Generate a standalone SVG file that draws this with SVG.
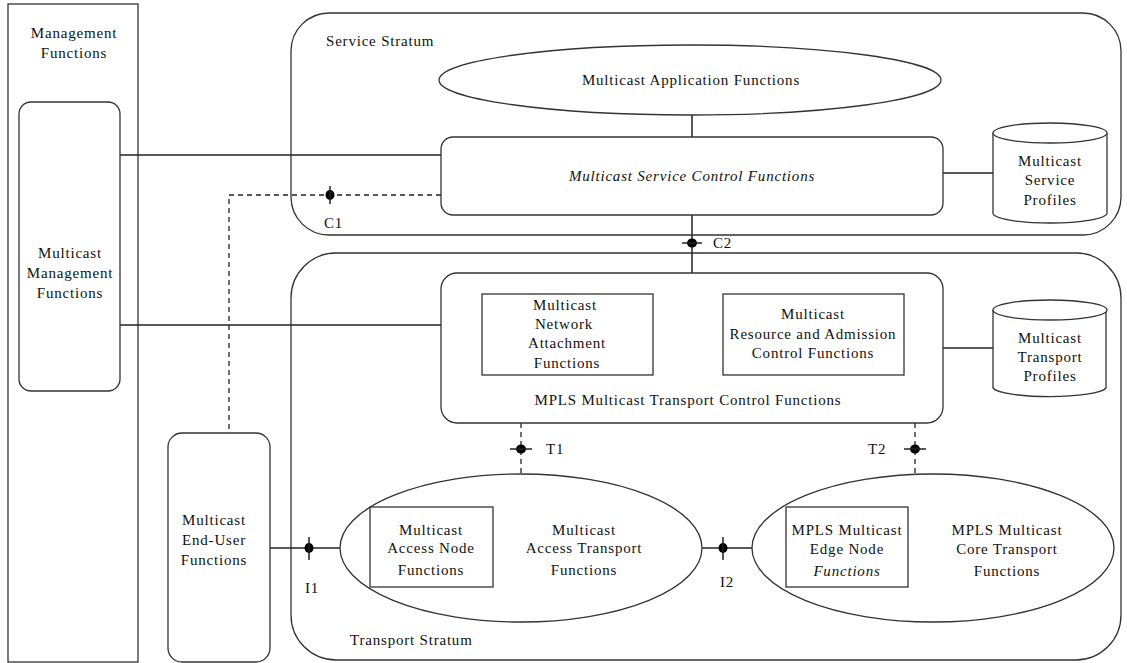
<svg xmlns="http://www.w3.org/2000/svg" width="1127" height="663" viewBox="0 0 1127 663">
<style>
.s{fill:none;stroke:#333;stroke-width:1.3}
.w{fill:#fff;stroke:#333;stroke-width:1.3}
.c{fill:none;stroke:#222;stroke-width:1.5}
.d{fill:none;stroke:#222;stroke-width:1.3;stroke-dasharray:5,4}
.t{font-family:"Liberation Serif","Times New Roman",serif;font-size:15px;letter-spacing:0.8px;fill:#111;text-anchor:middle}
.l{font-family:"Liberation Serif","Times New Roman",serif;font-size:15px;letter-spacing:0.8px;fill:#111}
.i{font-style:italic}
.k{fill:#000}
</style>
<rect width="1127" height="663" fill="#fff"/>
<g id="management-functions">
<rect x="8" y="4" width="130" height="658" class="s"/>
<text class="t" x="74" y="38">Management</text>
<text class="t" x="74" y="58">Functions</text>
</g>
<g id="service-stratum">
<rect x="291" y="13" width="830" height="222" rx="38" class="s"/>
<text class="l" x="326" y="46">Service Stratum</text>
</g>
<g id="transport-stratum">
<rect x="291" y="253" width="830" height="407" rx="45" class="s"/>
<text class="l" x="350" y="645">Transport Stratum</text>
</g>
<g id="connectors">
<line x1="120" y1="155" x2="441" y2="155" class="c"/>
<line x1="120" y1="325" x2="441" y2="325" class="c"/>
<polyline points="441,195 229,195 229,433" class="d"/>
<line x1="692" y1="115" x2="692" y2="137" class="c"/>
<line x1="692" y1="215" x2="692" y2="273" class="c"/>
<line x1="943" y1="173" x2="993" y2="173" class="c"/>
<line x1="943" y1="348" x2="993" y2="348" class="c"/>
<line x1="653" y1="334" x2="723" y2="334" class="c"/>
<line x1="521" y1="423" x2="521" y2="474" class="d"/>
<line x1="915" y1="423" x2="915" y2="474" class="d"/>
<line x1="270" y1="548" x2="340" y2="548" class="c"/>
<line x1="702" y1="548" x2="752" y2="548" class="c"/>
<g id="c1"><ellipse cx="330" cy="195" rx="4.5" ry="5" class="k"/><line x1="330" y1="186" x2="330" y2="204" class="c"/></g>
<g id="c2"><ellipse cx="692" cy="243" rx="5" ry="4.5" class="k"/><line x1="682" y1="243" x2="702" y2="243" class="c"/></g>
<g id="t1"><ellipse cx="521" cy="449" rx="5" ry="4.5" class="k"/><line x1="510" y1="449" x2="532" y2="449" class="c"/></g>
<g id="t2"><ellipse cx="915" cy="449" rx="5" ry="4.5" class="k"/><line x1="904" y1="449" x2="926" y2="449" class="c"/></g>
<g id="i1"><ellipse cx="309" cy="548" rx="4.5" ry="5" class="k"/><line x1="309" y1="537" x2="309" y2="560" class="c"/></g>
<g id="i2"><ellipse cx="723" cy="548" rx="4.5" ry="5" class="k"/><line x1="723" y1="537" x2="723" y2="560" class="c"/></g>
<text class="l" x="324" y="228">C1</text>
<text class="l" x="713" y="248">C2</text>
<text class="l" x="546" y="454">T1</text>
<text class="l" x="868" y="454">T2</text>
<text class="l" x="305" y="593">I1</text>
<text class="l" x="720" y="587">I2</text>
</g>
<g id="multicast-management-functions">
<rect x="19" y="102" width="101" height="289" rx="12" class="w"/>
<text class="t" x="70" y="258">Multicast</text>
<text class="t" x="70" y="278">Management</text>
<text class="t" x="70" y="298">Functions</text>
</g>
<g id="multicast-application-functions">
<ellipse cx="690" cy="80" rx="251" ry="35" class="w"/>
<text class="t" x="691" y="85">Multicast Application Functions</text>
</g>
<g id="multicast-service-control-functions">
<rect x="441" y="137" width="502" height="78" rx="12" class="w"/>
<text class="t i" x="692" y="181">Multicast Service Control Functions</text>
</g>
<g id="multicast-service-profiles">
<path d="M993,133 L993,213 A57,10 0 0 0 1107,213 L1107,133" class="w"/>
<ellipse cx="1050" cy="133" rx="57" ry="10" class="w"/>
<text class="t" x="1050" y="166">Multicast</text>
<text class="t" x="1050" y="185">Service</text>
<text class="t" x="1050" y="205">Profiles</text>
</g>
<g id="mpls-multicast-transport-control-functions">
<rect x="441" y="273" width="502" height="150" rx="16" class="w"/>
<text class="t" x="688" y="405">MPLS Multicast Transport Control Functions</text>
</g>
<g id="multicast-network-attachment-functions">
<rect x="482" y="294" width="171" height="81" class="w"/>
<text class="t" x="565" y="310">Multicast</text>
<text class="t" x="564" y="329">Network</text>
<text class="t" x="567" y="348">Attachment</text>
<text class="t" x="567" y="368">Functions</text>
</g>
<g id="multicast-resource-admission-control-functions">
<rect x="723" y="294" width="181" height="81" class="w"/>
<text class="t" x="813" y="319">Multicast</text>
<text class="t" x="813" y="339">Resource and Admission</text>
<text class="t" x="813" y="358">Control Functions</text>
</g>
<g id="multicast-transport-profiles">
<path d="M993,310 L993,388 A57,10 0 0 0 1106,388 L1106,310" class="w"/>
<ellipse cx="1050" cy="310" rx="57" ry="10" class="w"/>
<text class="t" x="1050" y="343">Multicast</text>
<text class="t" x="1050" y="362">Transport</text>
<text class="t" x="1050" y="381">Profiles</text>
</g>
<g id="multicast-end-user-functions">
<rect x="168" y="433" width="102" height="229" rx="14" class="w"/>
<text class="t" x="214" y="525">Multicast</text>
<text class="t" x="214" y="545">End-User</text>
<text class="t" x="214" y="565">Functions</text>
</g>
<g id="multicast-access-transport-functions">
<ellipse cx="521" cy="548" rx="181" ry="74" class="w"/>
<text class="t" x="584" y="535">Multicast</text>
<text class="t" x="584" y="553">Access Transport</text>
<text class="t" x="584" y="575">Functions</text>
</g>
<g id="multicast-access-node-functions">
<rect x="370" y="507" width="123" height="80" class="w"/>
<text class="t" x="431" y="535">Multicast</text>
<text class="t" x="431" y="553">Access Node</text>
<text class="t" x="431" y="575">Functions</text>
</g>
<g id="mpls-multicast-core-transport-functions">
<ellipse cx="933" cy="548" rx="181" ry="74" class="w"/>
<text class="t" x="1007" y="535">MPLS Multicast</text>
<text class="t" x="1007" y="554">Core Transport</text>
<text class="t" x="1007" y="576">Functions</text>
</g>
<g id="mpls-multicast-edge-node-functions">
<rect x="786" y="507" width="122" height="80" class="w"/>
<text class="t" x="847" y="535">MPLS Multicast</text>
<text class="t" x="847" y="554">Edge Node</text>
<text class="t i" x="847" y="576">Functions</text>
</g>
</svg>
